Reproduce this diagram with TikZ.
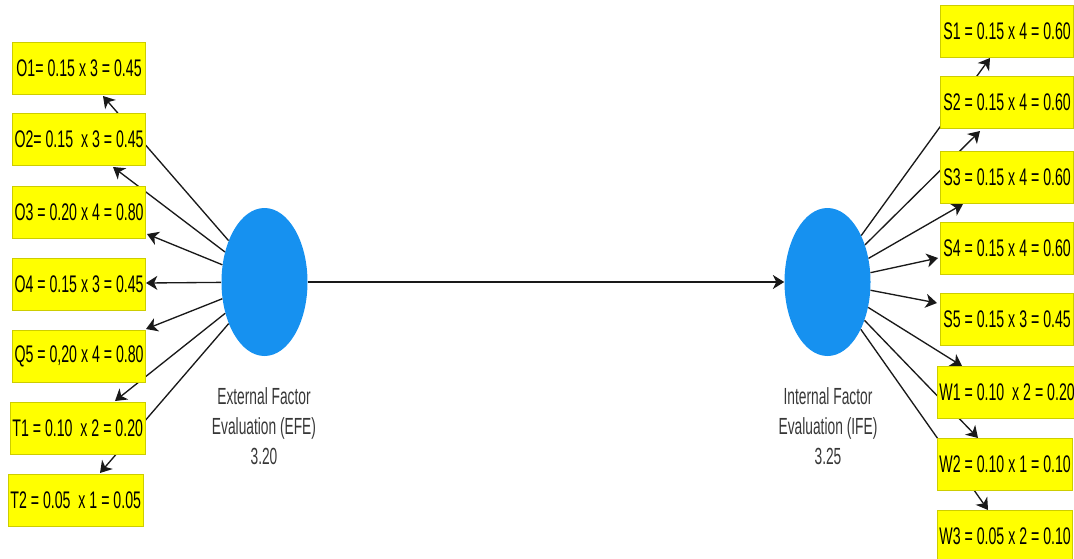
\documentclass[tikz,border=0pt]{standalone}
\usepackage{fontspec}
\usepackage{tikz}
\usetikzlibrary{arrows.meta,shapes.geometric}
\newfontfamily\narrowfont[FakeStretch=0.59]{Liberation Sans}
\definecolor{factorblue}{RGB}{22,145,240}
\definecolor{boxyellow}{RGB}{255,255,0}
\definecolor{boxedge}{RGB}{205,205,0}
\definecolor{labelgray}{RGB}{55,55,55}

\begin{document}
\begin{tikzpicture}[x=0.75pt,y=0.75pt,yscale=-1,xscale=1,
  factor/.style={ellipse,fill=factorblue,minimum width=64.5pt,minimum height=111pt,inner sep=0pt},
  scorebox/.style={draw=boxedge,fill=boxyellow,line width=0.6pt,minimum height=39pt,minimum width=100pt,
    inner xsep=1.5pt,anchor=west,font=\narrowfont\fontsize{18}{21}\selectfont},
  factorlabel/.style={align=center,text=labelgray,font=\narrowfont\fontsize{17.5}{22.5}\selectfont},
  link/.style={draw=black!90,line width=1pt,-{Stealth[length=8.5pt,width=10.5pt,inset=2.5pt]}}]
\clip (0,0) rectangle (1074,558);

% Factor Nodes
\node [factor] (efe) at (264.5,282) {};
\node [factor] (ife) at (827.5,282) {};
% Factor Labels
\node [factorlabel] (efetext) at (264,426) {External Factor\\Evaluation (EFE)\\3.20};
\node [factorlabel] (ifetext) at (828,426) {Internal Factor\\Evaluation (IFE)\\3.25};

% Arrow Ends
\coordinate (o1tip) at (103,96);
\coordinate (o2tip) at (113,167);
\coordinate (o3tip) at (147,234);
\coordinate (o4tip) at (146,283);
\coordinate (q5tip) at (146,329);
\coordinate (t1tip) at (115,401);
\coordinate (t2tip) at (100,473);
\coordinate (s1tip) at (990,58);
\coordinate (s2tip) at (980,131);
\coordinate (s3tip) at (963,204);
\coordinate (s4tip) at (938,258);
\coordinate (s5tip) at (937,303);
\coordinate (w1tip) at (962,366);
\coordinate (w2tip) at (978,438);
\coordinate (w3tip) at (988,510);

% Connections
\draw [link] (efe) -- (ife);
\foreach \t in {o1,o2,o3,o4,q5,t1,t2}
  \draw [link] (efe) -- (\t tip);
\foreach \t in {s1,s2,s3,s4,s5,w1,w2,w3}
  \draw [link] (ife) -- (\t tip);

% Opportunity and Threat Boxes
\node [scorebox] (o1) at (12,68) {O1= 0.15 x 3 = 0.45};
\node [scorebox] (o2) at (12,139.5) {O2= 0.15\ \ x 3 = 0.45};
\node [scorebox] (o3) at (12,212) {O3 = 0.20 x 4 = 0.80};
\node [scorebox] (o4) at (12,284) {O4 = 0.15 x 3 = 0.45};
\node [scorebox] (q5) at (12,356) {Q5 = 0,20 x 4 = 0.80};
\node [scorebox] (t1) at (10,428) {T1 = 0.10\ \ x 2 = 0.20};
\node [scorebox] (t2) at (8,500.5) {T2 = 0.05\ \ x 1 = 0.05};
% Strength and Weakness Boxes
\node [scorebox] (s1) at (940,31) {S1 = 0.15 x 4 = 0.60};
\node [scorebox] (s2) at (940,102.5) {S2 = 0.15 x 4 = 0.60};
\node [scorebox] (s3) at (940,177.5) {S3 = 0.15 x 4 = 0.60};
\node [scorebox] (s4) at (940,248) {S4 = 0.15 x 4 = 0.60};
\node [scorebox] (s5) at (940,319.5) {S5 = 0.15 x 3 = 0.45};
\node [scorebox] (w1) at (937,392) {W1 = 0.10\ \ x 2 = 0.20};
\node [scorebox] (w2) at (937,464) {W2 = 0.10 x 1 = 0.10};
\node [scorebox] (w3) at (937,536) {W3 = 0.05 x 2 = 0.10};

\end{tikzpicture}
\end{document}
